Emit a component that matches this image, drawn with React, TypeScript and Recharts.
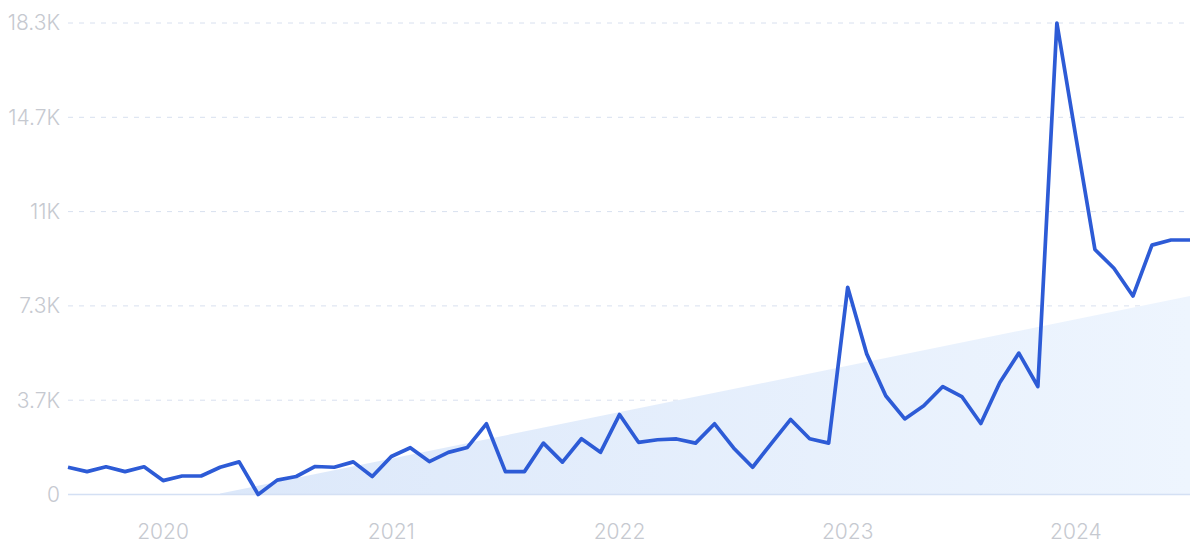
import { ComposedChart, Line, Area, XAxis, YAxis, CartesianGrid, ReferenceLine } from 'recharts';

// monthly points, Aug 2019 .. Jul 2024
const months = [
  '2019-08', '2019-09', '2019-10', '2019-11', '2019-12',
  '2020-01', '2020-02', '2020-03', '2020-04', '2020-05', '2020-06', '2020-07', '2020-08', '2020-09', '2020-10', '2020-11', '2020-12',
  '2021-01', '2021-02', '2021-03', '2021-04', '2021-05', '2021-06', '2021-07', '2021-08', '2021-09', '2021-10', '2021-11', '2021-12',
  '2022-01', '2022-02', '2022-03', '2022-04', '2022-05', '2022-06', '2022-07', '2022-08', '2022-09', '2022-10', '2022-11', '2022-12',
  '2023-01', '2023-02', '2023-03', '2023-04', '2023-05', '2023-06', '2023-07', '2023-08', '2023-09', '2023-10', '2023-11', '2023-12',
  '2024-01', '2024-02', '2024-03', '2024-04', '2024-05', '2024-06', '2024-07',
];

const searches = [
  1060, 890, 1080, 890, 1080,
  540, 720, 720, 1060, 1270, 0, 560, 700, 1090, 1060, 1270, 700,
  1480, 1820, 1280, 1640, 1830, 2750, 890, 890, 2000, 1260, 2170, 1640,
  3110, 2030, 2130, 2160, 2000, 2750, 1810, 1060, 2000, 2920, 2170, 2000,
  8060, 5470, 3840, 2940, 3450, 4200, 3810, 2760, 4360, 5500, 4200, 18340,
  13900, 9530, 8800, 7720, 9700, 9900, 9900,
];

// trend line: only the two ends are known, the area joins them
const trendStart = { month: '2020-04', value: 40 };
const trendEnd = { month: '2024-07', value: 7720 };

const yearTicks = ['2020-01', '2021-01', '2022-01', '2023-01', '2024-01'];
const yTicks = [0, 3668, 7336, 11004, 14672, 18340];
const yTickLabels = ['0', '3.7K', '7.3K', '11K', '14.7K', '18.3K'];

const data = months.map((m, i) => ({
  month: m,
  value: searches[i],
  trend: m === trendStart.month ? trendStart.value : m === trendEnd.month ? trendEnd.value : null,
}));

const tickStyle = { fill: '#c6c9d0', fontSize: 21, fontFamily: 'Inter, sans-serif', fontWeight: 300 };

export default function App() {
  return (
    <div style={{ width: 1200, height: 557, background: '#fff' }}>
      <style>{'body { margin: 0; }'}</style>
      <ComposedChart
        width={1200}
        height={557}
        data={data}
        margin={{ top: 23, right: 10, left: 0, bottom: 0 }}
      >
        <defs>
          <linearGradient id="trendFill" x1="0" y1="0" x2="1" y2="0">
            <stop offset="0%" stopColor="#dce8fa" />
            <stop offset="100%" stopColor="#eef5fe" />
          </linearGradient>
        </defs>
        <CartesianGrid vertical={false} stroke="#d8e0ef" strokeDasharray="5 6" />
        <XAxis
          dataKey="month"
          ticks={yearTicks}
          tickFormatter={(m: string) => m.slice(0, 4)}
          axisLine={false}
          tickLine={false}
          height={62.5}
          tick={tickStyle}
          tickMargin={24}
        />
        <YAxis
          domain={[0, 18340]}
          ticks={yTicks}
          tickFormatter={(v: number) => yTickLabels[yTicks.indexOf(v)]}
          axisLine={false}
          tickLine={false}
          width={68}
          tick={tickStyle}
          tickMargin={2}
        />
        <Area
          dataKey="trend"
          type="linear"
          connectNulls
          stroke="none"
          fill="url(#trendFill)"
          fillOpacity={1}
          isAnimationActive={false}
        />
        <ReferenceLine y={0} stroke="#d4e0f4" strokeWidth={1.5} />
        <Line
          dataKey="value"
          type="linear"
          stroke="#2d5bd6"
          strokeWidth={3.7}
          strokeLinejoin="round"
          dot={false}
          activeDot={false}
          isAnimationActive={false}
        />
      </ComposedChart>
    </div>
  );
}
